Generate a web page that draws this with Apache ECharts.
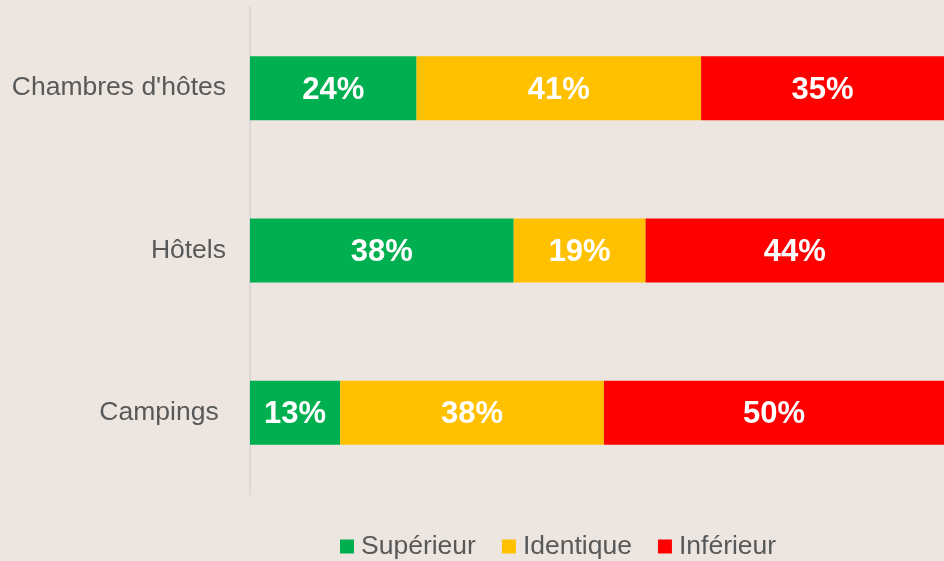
<!DOCTYPE html>
<html lang="fr">
  <head>
    <meta charset="UTF-8" />
    <title>Comparaison</title>
    <script src="https://cdn.jsdelivr.net/npm/echarts@6/dist/echarts.min.js"></script>
  </head>
  <style>
    html,
    body {
      margin: 0;
      padding: 0;
      background: #ede6e0;
    }
    #box {
      width: 944px;
      height: 561px;
    }
  </style>
  <body>
    <div id="box"></div>
  </body>
  <script>
    // catégories et valeurs (%)
    var categories = ["Chambres d'hôtes", "Hôtels", "Campings "];
    var superieur = [24, 38, 13];
    var identique = [41, 19, 38];
    var inferieur = [35, 44, 50];
    var seriesNames = ["Supérieur", "Identique", "Inférieur"];
    var colors = ["#00B050", "#FFC000", "#FF0000"];

    var myChart = echarts.init(document.getElementById("box"));

    function makeSeries(name, data, color) {
      return {
        name: name,
        type: "bar",
        stack: "total",
        data: data,
        barWidth: 64,
        itemStyle: { color: color },
        label: {
          show: true,
          position: "inside",
          formatter: "{c}%",
          color: "#fff",
          fontWeight: "bold",
          fontSize: 31,
          offset: [0, 2],
          fontFamily: "Liberation Sans, Arial, sans-serif",
        },
      };
    }

    var option = {
      backgroundColor: "#ede6e0",
      animation: false,
      grid: { left: 250, right: 0, top: 7, bottom: 67 },
      legend: {
        top: 528,
        left: 335,
        itemWidth: 14,
        itemHeight: 14,
        itemGap: 26,
        icon: "rect",
        textStyle: {
          color: "#595959",
          fontSize: 26.5,
          fontFamily: "Liberation Sans, Arial, sans-serif",
          padding: [0, 0, 0, 2],
        },
        data: seriesNames,
      },
      xAxis: {
        type: "value",
        min: 0,
        max: 100,
        show: false,
      },
      yAxis: {
        type: "category",
        inverse: true,
        data: categories,
        axisLine: { show: true, lineStyle: { color: "#D9D9D9", width: 2 } },
        axisTick: { show: false },
        axisLabel: {
          color: "#595959",
          fontSize: 26.5,
          margin: 24,
          padding: [3, 0, 0, 0],
          fontFamily: "Liberation Sans, Arial, sans-serif",
        },
      },
      series: [
        makeSeries(seriesNames[0], superieur, colors[0]),
        makeSeries(seriesNames[1], identique, colors[1]),
        makeSeries(seriesNames[2], inferieur, colors[2]),
      ],
    };
    myChart.setOption(option);
  </script>
</html>
